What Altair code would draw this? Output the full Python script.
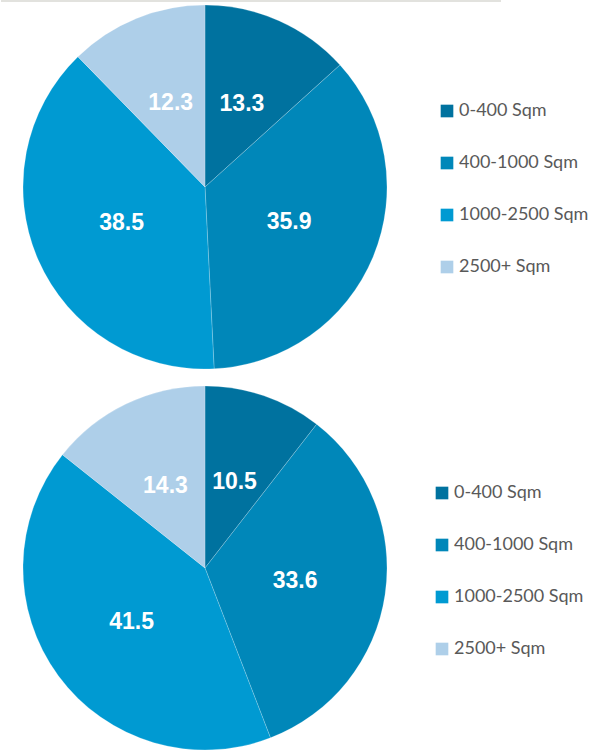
import altair as alt
import pandas as pd

# Floor-area bands and their shares (%) for the two pies
categories = ["0-400 Sqm", "400-1000 Sqm", "1000-2500 Sqm", "2500+ Sqm"]
shares_top = [13.3, 35.9, 38.5, 12.3]
shares_bottom = [10.5, 33.6, 41.5, 14.3]
palette = ["#00729f", "#0087b9", "#009ad2", "#aecfe9"]

PIE_R = 182
LABEL_R = 91
VIEW_W = 408
VIEW_H = 374


def pie(values, legend_x, legend_y, top_rule=False):
    df = pd.DataFrame({"band": categories, "share": values, "idx": range(len(categories))})
    base = alt.Chart(df).encode(
        theta=alt.Theta("share:Q", stack=True),
        order=alt.Order("idx:O"),
    )
    color = alt.Color(
        "band:N",
        scale=alt.Scale(domain=categories, range=palette),
        sort=categories,
        legend=alt.Legend(
            title=None,
            orient="none",
            legendX=legend_x,
            legendY=legend_y,
            padding=0,
            symbolType="square",
            symbolSize=160,
            symbolStrokeWidth=0,
            labelFont="Lato",
            labelFontSize=18,
            labelColor="#595959",
            labelOffset=3,
            rowPadding=34,
        ),
    )
    arcs = base.mark_arc(outerRadius=PIE_R, stroke="#ffffff", strokeWidth=0.4, strokeOpacity=0.5).encode(color=color)
    labels = base.mark_text(
        radius=LABEL_R,
        font="Liberation Sans",
        fontWeight="bold",
        fontSize=23,
        color="white",
        baseline="middle",
        align="center",
    ).encode(text=alt.Text("share:Q", format=".1f"))
    layers = [arcs, labels]
    if top_rule:
        rule = alt.Chart(pd.DataFrame({"k": [0]})).mark_rule(color="#e2e2de", strokeWidth=2).encode(
            x=alt.value(0), x2=alt.value(500), y=alt.value(1)
        )
        layers = [rule] + layers
    return alt.layer(*layers).properties(width=VIEW_W, height=VIEW_H)


chart = (
    alt.vconcat(
        pie(shares_top, 437, 102, top_rule=True),
        pie(shares_bottom, 432, 103),
        spacing=7,
    )
    .resolve_scale(color="independent")
    .properties(padding=0)
    .configure_view(stroke=None)
)

chart.save("out.html", embed_options={"renderer": "svg", "actions": False})
